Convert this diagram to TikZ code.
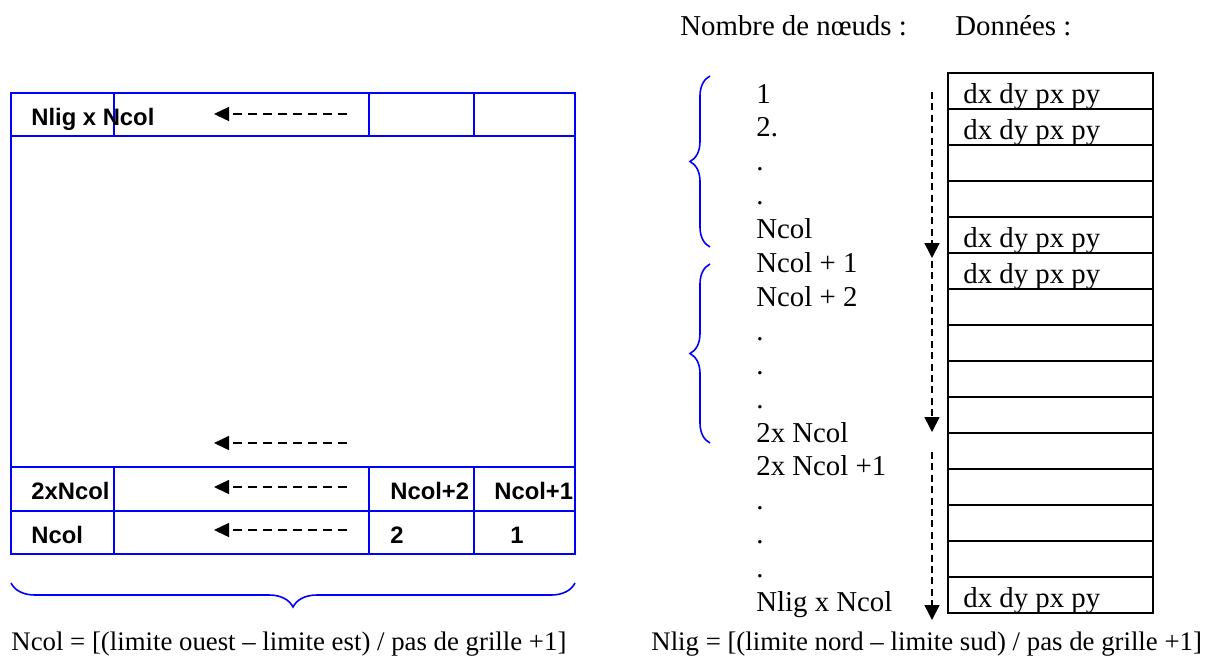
\documentclass[tikz,border=0pt]{standalone}
\usepackage{fontspec}
\setmainfont{Liberation Serif}
\setsansfont{Liberation Sans}
\usetikzlibrary{arrows.meta,decorations.pathreplacing}

\begin{document}
\begin{tikzpicture}[x=0.5pt,y=-0.5pt,
  grille/.style={blue, line width=1pt},
  casier/.style={black, line width=0.75pt},
  fleche/.style={black, line width=0.7pt, dash pattern=on 4.5pt off 3pt, -{Triangle[length=7.5pt,width=7pt]}},
  descente/.style={black, line width=0.8pt, dash pattern=on 3.5pt off 2.2pt, -{Triangle[length=7.5pt,width=7.5pt]}},
  accolade/.style={blue, line width=0.8pt, decorate},
  numcase/.style={anchor=base west, inner sep=0pt, font=\sffamily\bfseries\fontsize{11.9}{14}\selectfont},
  texte/.style={anchor=base west, inner sep=0pt, font=\fontsize{14.4}{17}\selectfont},
  formule/.style={anchor=base west, inner sep=0pt, font=\fontsize{13.4}{16}\selectfont}]
\useasboundingbox (0,0) rectangle (1209,666);
% Grille
\draw[grille] (11,93) rectangle (575,554);
\draw[grille] (11,136) -- (575,136);
\draw[grille] (114,93) -- (114,136);
\draw[grille] (369,93) -- (369,136);
\draw[grille] (474,93) -- (474,136);
\draw[grille] (11,467) -- (575,467);
\draw[grille] (11,511) -- (575,511);
\draw[grille] (114,467) -- (114,554);
\draw[grille] (369,467) -- (369,554);
\draw[grille] (474,467) -- (474,554);
% Fleches de la grille
\draw[fleche] (347,114) -- (214,114);
\draw[fleche] (347,443) -- (214,443);
\draw[fleche] (347,487) -- (214,487);
\draw[fleche] (347,530) -- (214,530);
% Numeros des noeuds
\node[numcase] (haut) at (31,125) {Nlig x Ncol};
\node[numcase] (deuxn) at (31,499) {2xNcol};
\node[numcase] (ncpdeux) at (390,499) {Ncol+2};
\node[numcase] (ncpun) at (494,499) {Ncol+1};
\node[numcase] (ncol) at (31,543) {Ncol};
\node[numcase] (deux) at (390,543) {2};
\node[numcase] (un) at (510,543) {1};
% Accolades
\draw[accolade, decoration={brace, amplitude=12pt}] (575,583) -- (11,583);
\draw[accolade, decoration={brace, amplitude=10pt}] (710,247) -- (710,76);
\draw[accolade, decoration={brace, amplitude=10pt}] (710,443) -- (710,264);
% Titres
\node[texte] (nombre) at (680,35) {Nombre de nœuds :};
\node[texte] (donnees) at (955,35) {Données :};
% Liste des noeuds
\node[texte] (l1) at (756,103) {1};
\node[texte] (l2) at (756,136.9) {2.};
\node[texte] (l3) at (756,170.8) {.};
\node[texte] (l4) at (756,204.7) {.};
\node[texte] (l5) at (756,238.6) {Ncol};
\node[texte] (l6) at (756,272.5) {Ncol + 1};
\node[texte] (l7) at (756,306.4) {Ncol + 2};
\node[texte] (l8) at (756,340.3) {.};
\node[texte] (l9) at (756,374.2) {.};
\node[texte] (l10) at (756,408.1) {.};
\node[texte] (l11) at (756,442) {2x Ncol};
\node[texte] (l12) at (756,475.9) {2x Ncol +1};
\node[texte] (l13) at (756,509.8) {.};
\node[texte] (l14) at (756,543.7) {.};
\node[texte] (l15) at (756,577.6) {.};
\node[texte] (l16) at (756,611.5) {Nlig x Ncol};
% Parcours
\draw[descente] (932,92) -- (932,258);
\draw[descente] (932,261) -- (932,432);
\draw[descente] (932,452) -- (932,620);
% Donnees
\draw[casier] (948,73) rectangle (1153,613);
\draw[casier] (948,109) -- (1153,109);
\draw[casier] (948,145) -- (1153,145);
\draw[casier] (948,181) -- (1153,181);
\draw[casier] (948,217) -- (1153,217);
\draw[casier] (948,253) -- (1153,253);
\draw[casier] (948,289) -- (1153,289);
\draw[casier] (948,325) -- (1153,325);
\draw[casier] (948,361) -- (1153,361);
\draw[casier] (948,397) -- (1153,397);
\draw[casier] (948,433) -- (1153,433);
\draw[casier] (948,469) -- (1153,469);
\draw[casier] (948,505) -- (1153,505);
\draw[casier] (948,541) -- (1153,541);
\draw[casier] (948,577) -- (1153,577);
\node[texte] (d1) at (963,103) {dx dy px py};
\node[texte] (d2) at (963,139) {dx dy px py};
\node[texte] (d5) at (963,247) {dx dy px py};
\node[texte] (d6) at (963,283) {dx dy px py};
\node[texte] (d15) at (963,607) {dx dy px py};
% Formules
\node[formule] (fcol) at (11,650) {Ncol = [(limite ouest – limite est) / pas de grille +1]};
\node[formule] (flig) at (651,650) {Nlig = [(limite nord – limite sud) / pas de grille +1]};
\end{tikzpicture}
\end{document}
